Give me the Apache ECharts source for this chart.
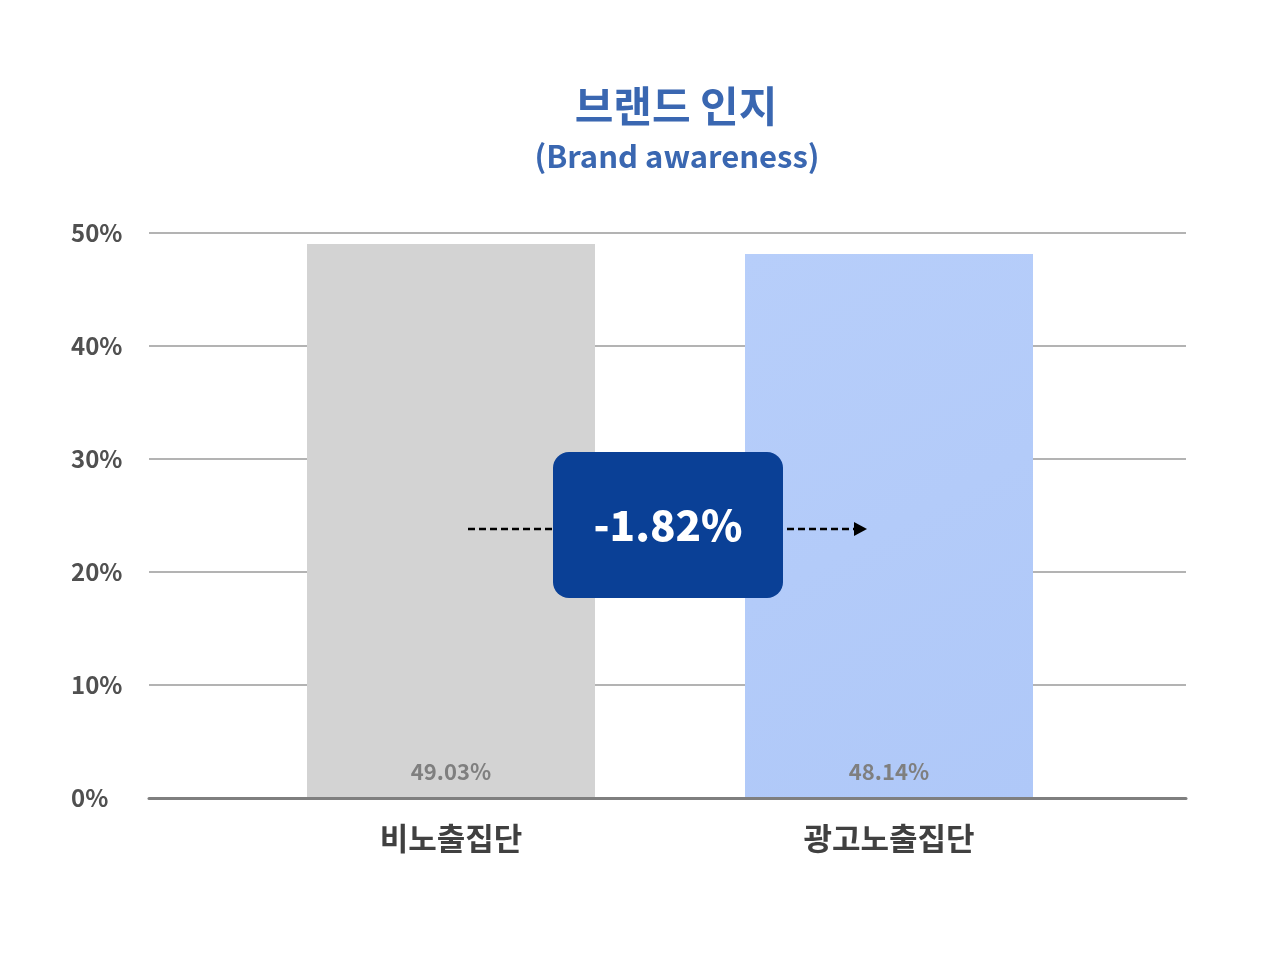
<!DOCTYPE html>
<html><head><meta charset="utf-8">
<script src="https://cdn.jsdelivr.net/npm/echarts@6/dist/echarts.min.js"></script>
<style>html,body{margin:0;padding:0;background:#fff}#c{width:1280px;height:960px}</style>
</head><body><div id="c"></div>
<script>
const categories = ['비노출집단', '광고노출집단'];
const values = [49.03, 48.14];
const yTicks = [0, 10, 20, 30, 40, 50];
const diffLabel = '-1.82%';
const arrowLevel = 23.8;

const FONT = '"Noto Sans CJK KR", "Noto Sans", sans-serif';
const chart = echarts.init(document.getElementById('c'));
const option = {
  backgroundColor: '#ffffff',
  animation: false,
  title: [
    { text: '브랜드 인지', left: 671, top: 80, textAlign: 'center',
      textStyle: { fontFamily: FONT, fontSize: 42, fontWeight: 'bold', color: '#3a67b1' } },
    { text: '(Brand awareness)', left: 672, top: 136, textAlign: 'center',
      textStyle: { fontFamily: FONT, fontSize: 31, fontWeight: 'bold', color: '#3a67b1' } }
  ],
  grid: [
    { left: 149, right: 94, top: 233, bottom: 162 },
    { left: 232, right: 172, top: 233, bottom: 162 }
  ],
  xAxis: [
    { type: 'category', gridIndex: 0, data: ['', ''], axisLabel: { show: false }, axisTick: { show: false },
      axisLine: { show: true, lineStyle: { color: '#7f7f7f', width: 3 } }, z: 10 },
    { type: 'category', gridIndex: 1, data: categories, axisTick: { show: false },
      axisLine: { show: false },
      axisLabel: { margin: 25, fontFamily: FONT, fontSize: 31, fontWeight: 'bold', color: '#404040' } }
  ],
  yAxis: [
    { type: 'value', gridIndex: 0, min: yTicks[0], max: yTicks[yTicks.length - 1], interval: 10,
      axisLabel: { margin: 78, align: 'left', formatter: '{value}%', fontFamily: FONT, fontSize: 24, fontWeight: 'bold', color: '#505050' },
      splitLine: { lineStyle: { color: '#b3b3b3', width: 2 } }, axisLine: { show: false }, axisTick: { show: false } },
    { type: 'value', gridIndex: 1, min: yTicks[0], max: yTicks[yTicks.length - 1], interval: 10,
      axisLabel: { show: false }, splitLine: { show: false }, axisLine: { show: false }, axisTick: { show: false } }
  ],
  series: [{
    type: 'bar', xAxisIndex: 1, yAxisIndex: 1, barWidth: 288,
    data: values.map((v, i) => ({
      value: v,
      itemStyle: { color: i === 0 ? '#d3d3d3' : new echarts.graphic.LinearGradient(0, 0, 1, 1, [
        { offset: 0, color: '#b7cefa' }, { offset: 1, color: '#afc8f8' }]) }
    })),
    label: { show: true, position: 'insideBottom', distance: 15, formatter: p => p.value.toFixed(2) + '%',
      fontFamily: FONT, fontSize: 22, fontWeight: 'bold', color: '#7f7f7f' }
  }]
};
chart.setOption(option);

const p0 = chart.convertToPixel({ xAxisIndex: 1, yAxisIndex: 1 }, [0, arrowLevel]);
const p1 = chart.convertToPixel({ xAxisIndex: 1, yAxisIndex: 1 }, [1, arrowLevel]);
const cx = (p0[0] + p1[0]) / 2 - 2;
const y = p0[1];
const boxW = 230, boxH = 146;
chart.setOption({
  graphic: [
    { type: 'line', shape: { x1: p0[0] + 17, y1: y, x2: p1[0] - 28, y2: y }, z: 20,
      style: { stroke: '#000', lineWidth: 2.5, lineDash: [7, 4] } },
    { type: 'polygon', shape: { points: [[p1[0] - 35, y - 7], [p1[0] - 22, y], [p1[0] - 35, y + 7]] }, z: 20,
      style: { fill: '#000' } },
    { type: 'rect', shape: { x: cx - boxW / 2, y: y - 4 - boxH / 2, width: boxW, height: boxH, r: 16 }, z: 30,
      style: { fill: '#0a4096' } },
    { type: 'text', x: cx, y: y - 4, z: 31,
      style: { text: diffLabel, fill: '#ffffff', font: '900 42px ' + FONT, align: 'center', verticalAlign: 'middle' } }
  ]
});
</script>
</body></html>
